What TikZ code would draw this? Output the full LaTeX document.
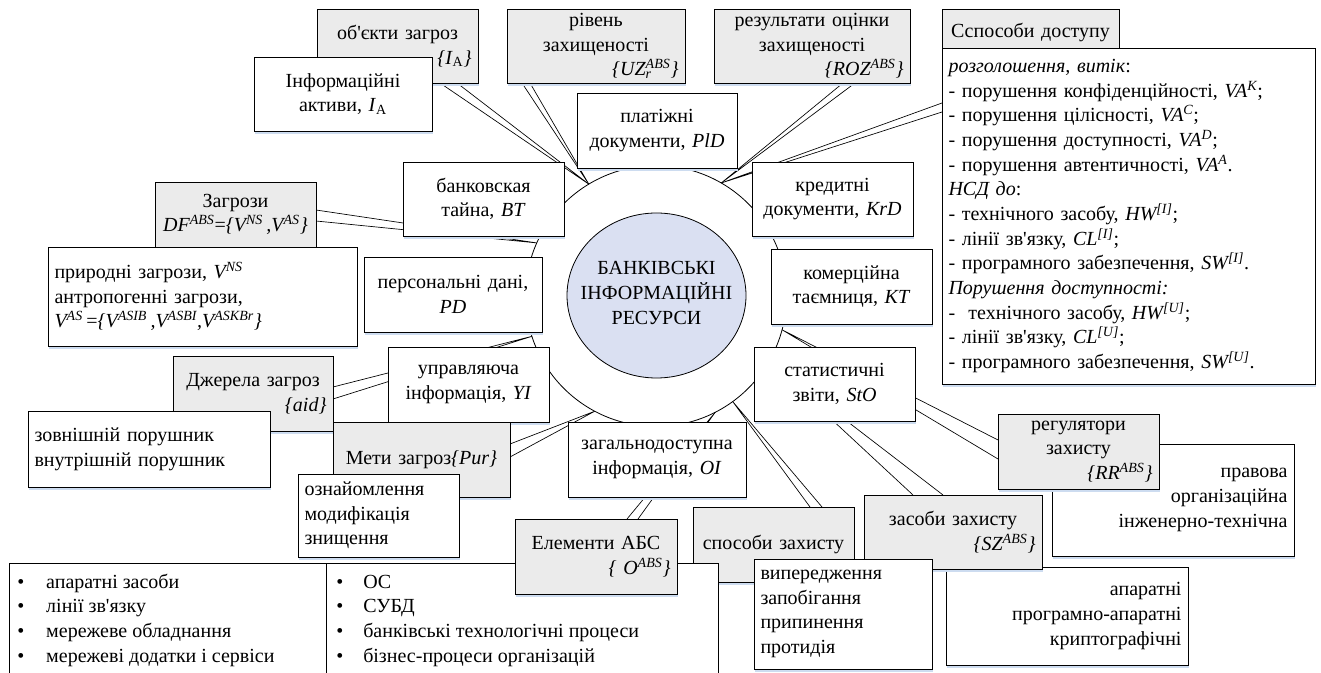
\documentclass[tikz,border=0pt]{standalone}
\usepackage{fontspec}
\setmainfont{Liberation Serif}
\usetikzlibrary{calc,shapes.geometric,shadows}
\definecolor{gfill}{RGB}{235,235,235}
\definecolor{inblue}{RGB}{218,224,242}
\definecolor{shblue}{RGB}{205,220,240}
\setlength{\parindent}{0pt}
\newcommand\BX[7]{%
  \pgfmathsetmacro\bxw{(#5-#3)*0.75}%
  \pgfmathsetmacro\bxh{(#6-#4)*0.75}%
  \pgfmathsetmacro\bxt{(#5-#3-13)*0.75}%
  \node[#2, anchor=north west, minimum width=\bxw pt, minimum height=\bxh pt, text width=\bxt pt] (#1) at (#3,#4) {\parindent=0pt #7\par};}
\newcommand\supsub[2]{\rlap{\textsubscript{#2}}\textsuperscript{#1}}
\newcommand\ap{\textquotesingle}
\begin{document}
\begin{tikzpicture}[x=0.75pt,y=-0.75pt,
  every node/.style={font=\fontsize{15}{18.5}\selectfont, text=black},
  bxbase/.style={draw=black, line width=0.6pt, inner xsep=0pt, inner ysep=0pt, outer sep=0pt},
  bshadow/.style={general shadow={fill=shblue, shadow xshift=0.75pt, shadow yshift=-1.9pt}},
  wbox/.style={bxbase, bshadow, fill=white},
  gbox/.style={bxbase, bshadow, fill=gfill},
  link/.style={draw=black, line width=0.5pt},
]
\useasboundingbox (0,0) rectangle (1321,673);
\clip (0,0) rectangle (1321,673);

% central ring and core
\node[circle, draw=black, line width=0.6pt, fill=white, minimum size=195.75pt, inner sep=0pt, outer sep=0pt] (ring) at (656,296) {};
\node[ellipse, draw=black, line width=0.6pt, fill=inblue, minimum width=134.25pt, minimum height=123.75pt, inner sep=0pt] (core) at (656.5,295.5) {};
\node[align=center, inner sep=0pt] (coretxt) at (656.5,293) {БАНКІВСЬКІ\\ІНФОРМАЦІЙНІ\\РЕСУРСИ};

% connector end points on the box edges
\coordinate (objA) at (440,83);   \coordinate (objB) at (457,83);
\coordinate (rivA) at (522,83);   \coordinate (rivB) at (530,83);
\coordinate (rozA) at (843,83);   \coordinate (rozB) at (855,83);
\coordinate (sdA) at (942,103);   \coordinate (sdB) at (942,112);
\coordinate (zagA) at (316,210);  \coordinate (zagB) at (316,221);
\coordinate (dzhA) at (333,387);  \coordinate (dzhB) at (333,399);
\coordinate (metA) at (510,444);  \coordinate (metB) at (510,457);
\coordinate (elA) at (627,519);   \coordinate (elB) at (638,519);
\coordinate (spA) at (810,507);   \coordinate (spB) at (822,507);
\coordinate (zzA) at (913,495);   \coordinate (zzB) at (943,495);
\coordinate (rgA) at (998,440);   \coordinate (rgB) at (998,459);

\draw[link] (objA) -- (ring.121) (objB) -- (ring.121);
\draw[link] (rivA) -- (ring.121) (rivB) -- (ring.121);
\draw[link] (rozA) -- (ring.60) (rozB) -- (ring.60);
\draw[link] (sdA) -- (ring.60) (sdB) -- (ring.60);
\draw[link] (zagA) -- (ring.156) (zagB) -- (ring.156);
\draw[link] (dzhA) -- (ring.198) (dzhB) -- (ring.198);
\draw[link] (metA) -- (ring.242) (metB) -- (ring.242);
\draw[link] (elA) -- (ring.297) (elB) -- (ring.297);
\draw[link] (spA) -- (ring.306) (spB) -- (ring.306);
\draw[link] (zzA) -- (ring.330) (zzB) -- (ring.330);
\draw[link] (rgA) -- (ring.345) (rgB) -- (ring.345);

% top row
\BX{obj}{gbox}{317}{9}{478}{83}{\centering об\ap єкти загроз\par\raggedleft\textit{\{I}\textsubscript{A}\textit{\}}}
\BX{inf}{wbox}{254}{57}{432}{131}{\centering Інформаційні\\активи, \textit{I}\textsubscript{A}}
\BX{riv}{gbox}{507}{9}{685}{83}{\centering рівень\\захищеності\par\raggedleft\textit{\{UZ\supsub{ABS}{r}\}}}
\BX{roz}{gbox}{714}{9}{910}{83}{\centering результати оцінки\\захищеності\par\raggedleft\textit{\{ROZ\textsuperscript{ABS}\}}}
\BX{sd}{gbox}{942}{9}{1119}{57}{\centering Сспособи доступу}
\BX{big}{wbox}{942}{48}{1315}{384}{\raggedright
\textit{розголошення, витік}:\\
- порушення конфіденційності, \textit{VA\textsuperscript{K}};\\
- порушення цілісності, \textit{VA\textsuperscript{C}};\\
- порушення доступності, \textit{VA\textsuperscript{D}};\\
- порушення автентичності, \textit{VA\textsuperscript{A}}.\\
\textit{НСД до}:\\
- технічного засобу, \textit{HW\textsuperscript{[I]}};\\
- лінії зв\ap язку, \textit{CL\textsuperscript{[I]}};\\
- програмного забезпечення, \textit{SW\textsuperscript{[I]}}.\\
\textit{Порушення доступності:}\\
-\ \ технічного засобу, \textit{HW\textsuperscript{[U]}};\\
- лінії зв\ap язку, \textit{CL\textsuperscript{[U]}};\\
- програмного забезпечення, \textit{SW\textsuperscript{[U]}}.}

% inner ring of resources
\BX{pld}{wbox}{577}{93}{737}{168}{\centering платіжні\\документи, \textit{PlD}}
\BX{bt}{wbox}{403}{162}{564}{236}{\centering банковская\\тайна, \textit{BT}}
\BX{krd}{wbox}{752}{162}{913}{236}{\centering кредитні\\документи, \textit{KrD}}
\BX{kt}{wbox}{771}{249}{932}{324}{\centering комерційна\\таємниця, \textit{KT}}
\BX{pd}{wbox}{364}{257}{542}{332}{\centering персональні дані,\\\textit{PD}}
\BX{yi}{wbox}{388}{347}{549}{422}{\centering управляюча\\інформація, \textit{YI}}
\BX{oi}{wbox}{568}{422}{746}{497}{\centering загальнодоступна\\інформація, \textit{OI}}
\BX{sto}{wbox}{754}{347}{915}{421}{\centering статистичні\\звіти, \textit{StO}}

% left side
\BX{zag}{gbox}{155}{182}{316}{247}{\centering Загрози\\\textit{DF\textsuperscript{ABS}}=\textit{\{V\textsuperscript{NS}\,,V\textsuperscript{AS}\}}}
\BX{prir}{wbox}{48}{247}{357}{346}{\raggedright природні загрози, \textit{V\textsuperscript{NS}}\\антропогенні загрози,\\\textit{V\textsuperscript{AS}}\,=\textit{\{V\textsuperscript{ASIB}\,,V\textsuperscript{ASBI},V\textsuperscript{ASKBr}\}}}
\BX{dzh}{gbox}{173}{356}{333}{431}{\centering Джерела загроз\par\raggedleft\textit{\{aid\}}}
\BX{zovn}{wbox}{28}{411}{270}{487}{\raggedright зовнішній порушник\\внутрішній порушник}
\BX{meti}{gbox}{333}{422}{510}{497}{\centering Мети загроз\textit{\{Pur\}}}
\BX{ozn}{wbox}{298}{474}{459}{557}{\raggedright ознайомлення\\модифікація\\знищення}

% bottom
\BX{spz}{gbox}{693}{507}{854}{582}{\centering способи захисту}
\BX{bul}{wbox}{9}{563}{718}{710}{}
\draw[line width=0.6pt] ($(bul.north west)+(317,0)$) coordinate (divT) -- ($(bul.south west)+(317,0)$) coordinate (divB);
\foreach \t [count=\i] in {апаратні засоби, лінії зв\ap язку, мережеве обладнання, мережеві додатки і сервіси}
  \node[anchor=base west, inner sep=0pt] (bl\i) at (17,{588+24.67*(\i-1)}) {\makebox[21.75pt][l]{•}\t};
\foreach \t [count=\i] in {ОС, СУБД, банківські технологічні процеси, бізнес-процеси організацій}
  \node[anchor=base west, inner sep=0pt] (br\i) at (336,{588+24.67*(\i-1)}) {\makebox[20.25pt][l]{•}\t};
\BX{elem}{gbox}{515}{519}{677}{594}{\centering Елементи АБС\par\raggedleft\textit{\{ O\textsuperscript{ABS}\}}}

% right bottom
\BX{apar}{wbox}{946}{567}{1188}{665}{\raggedleft апаратні\\програмно-апаратні\\криптографічні}
\BX{zz}{gbox}{864}{495}{1042}{569}{\centering засоби захисту\par\raggedleft\textit{\{SZ\textsuperscript{ABS}\}}}
\BX{vyp}{wbox}{754}{559}{932}{669}{\raggedright випередження\\запобігання\\припинення\\протидія}
\BX{prav}{wbox}{1052}{444}{1294}{556}{\raggedleft правова\\організаційна\\інженерно-технічна}
\BX{reg}{gbox}{998}{414}{1159}{489}{\centering регулятори\\захисту\par\raggedleft\textit{\{RR\textsuperscript{ABS}\}}}
\end{tikzpicture}
\end{document}
